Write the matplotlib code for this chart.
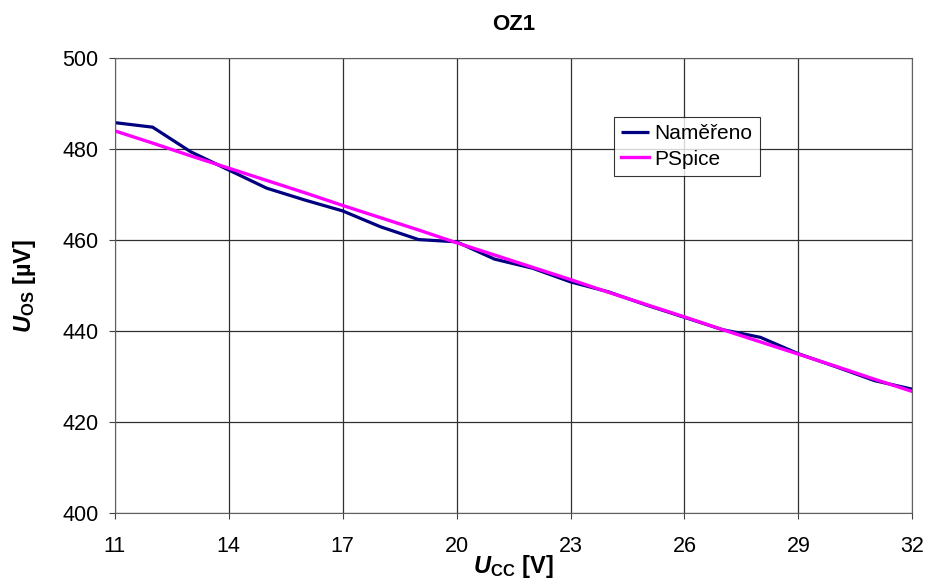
import numpy as np
import matplotlib.pyplot as plt

plt.rcParams['font.family'] = ['Liberation Sans', 'DejaVu Sans']
plt.rcParams['mathtext.fontset'] = 'custom'
plt.rcParams['mathtext.rm'] = 'Liberation Sans:bold'
plt.rcParams['mathtext.bf'] = 'Liberation Sans:bold'
plt.rcParams['mathtext.bfit'] = 'Liberation Sans:bold:italic'
plt.rcParams['mathtext.it'] = 'Liberation Sans:bold:italic'

# napájecí napětí
ucc = list(range(11, 33))
# naměřené hodnoty offsetu
namereno = [485.8, 484.8, 479.4, 475.4, 471.4, 468.8, 466.4, 462.9, 460.1, 459.6, 455.8,
            453.8, 450.8, 448.6, 445.7, 443.0, 440.3, 438.6, 435.0, 432.1, 429.1, 427.2]
# simulace PSpice
pspice = [484.0, 481.3, 478.5, 475.8, 473.1, 470.4, 467.6, 464.9, 462.2, 459.4, 456.7,
          454.0, 451.3, 448.5, 445.8, 443.1, 440.3, 437.6, 434.9, 432.2, 429.4, 426.7]

fig = plt.figure(figsize=(9.32, 5.86), dpi=100)
ax = fig.add_axes([0.123, 0.1246, 0.856, 0.7764])

ax.plot(ucc, namereno, color='#000080', lw=2.3, label='Naměřeno',
        solid_joinstyle='round', solid_capstyle='butt')
ax.plot(ucc, pspice, color='#FF00FF', lw=2.4, label='PSpice')

ax.set_xlim(11, 32)
ax.set_ylim(400, 500)
ax.set_xticks(range(11, 33, 3))
ax.set_yticks(range(400, 501, 20))
ax.grid(True, color='#303030', lw=0.9)
ax.set_axisbelow(True)
ax.tick_params(labelsize=15.5, length=4.5, direction='out', color='#404040')
ax.tick_params(axis='x', pad=12)
ax.tick_params(axis='y', pad=7)
for s in ax.spines.values():
    s.set_color('#606060')

fig.text(0.5 * (0.123 + 0.979), 1 - 24.5 / 586, 'OZ1', fontsize=16, fontweight='bold',
         ha='center', va='center')
ax.set_xlabel(r'$\mathbfit{U}_{\mathbf{CC}}$ [V]', fontsize=17, fontweight='bold')
ax.set_ylabel(r'$\mathbfit{U}_{\mathbf{OS}}$ [µV]', fontsize=17, fontweight='bold')
ax.xaxis.set_label_coords(0.5, -0.088)
ax.yaxis.set_label_coords(-0.096, 0.5)

leg = ax.legend(loc='upper left', bbox_to_anchor=(0.626, 0.870), fontsize=15,
                frameon=True, fancybox=False, handlelength=1.35, handletextpad=0.25,
                borderpad=0.35, labelspacing=0.3, borderaxespad=0)
leg.get_frame().set_edgecolor('black')
leg.get_frame().set_linewidth(0.8)

plt.savefig('out.png', dpi=100)
